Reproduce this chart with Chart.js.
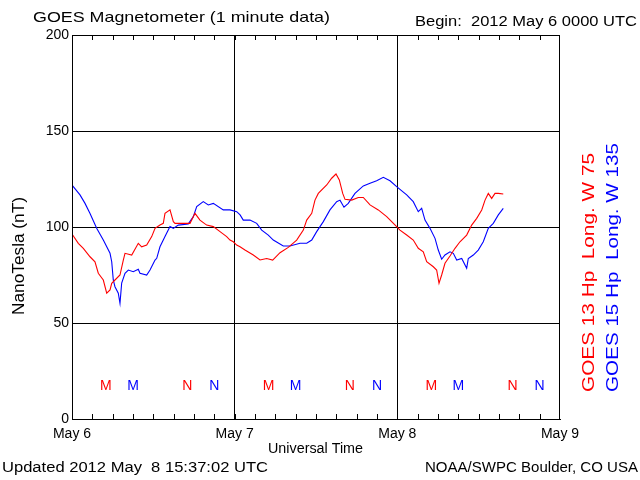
<!DOCTYPE html>
<html>
<head>
<meta charset="utf-8">
<script src="https://cdn.jsdelivr.net/npm/chart.js@4/dist/chart.umd.min.js"></script>
<style>
html,body{margin:0;padding:0;background:#fff;}
#c{display:block;}
</style>
</head>
<body>
<canvas id="c" width="640" height="480"></canvas>
<script>
// ---- Data (hours since 2012 May 6 00:00 UT) ----
const g13Hours = [0.1,0.93,1.67,2.66,3.39,3.88,4.62,5.12,5.61,5.86,6.34,7.08,7.57,7.82,8.81,9.78,10.28,11.02,11.76,12.25,12.98,13.47,13.72,14.46,14.95,15.2,16.42,17.41,18.15,18.88,19.87,20.85,21.84,22.82,23.31,23.8,24.3,24.79,25.52,26.75,27.74,28.72,29.61,30.69,31.91,33.15,34.13,34.63,35.37,35.85,36.34,37.58,38.31,38.95,39.44,39.94,40.28,41.27,42.24,42.98,43.97,45.19,46.43,47.9,48.39,49.38,50.35,51.09,51.83,52.33,53.31,53.8,54.15,54.54,55.03,55.77,56.51,57.24,58.23,58.97,59.71,60.45,60.94,61.42,61.92,62.41,62.9,63.63];
const g13Values = [95.8,91.5,88.9,84.5,81.9,75.9,72.4,65.5,67.2,70.7,72.4,75.0,82.8,86.3,85.4,91.5,89.7,90.6,95.0,99.3,101.0,101.9,107.1,108.9,102.8,101.9,101.9,101.9,107.1,103.6,101.0,100.2,97.6,95.0,93.2,92.3,90.6,89.7,88.0,85.4,82.8,83.6,82.8,86.6,89.4,93.2,98.4,103.6,107.1,114.0,117.5,121.9,125.4,127.6,124.5,117.5,114.4,114.0,115.4,115.4,111.5,108.9,105.4,100.2,98.4,95.8,93.2,88.9,87.1,81.9,79.3,77.6,70.7,75.0,81.1,84.9,88.9,92.3,95.8,101.0,104.5,108.9,114.0,117.5,114.9,117.5,117.5,117.2];
const g15Hours = [0.1,1.18,1.92,2.66,3.64,4.62,5.61,5.86,6.09,6.34,6.83,7.08,7.33,7.82,8.31,9.04,9.78,10.03,11.02,11.51,12.25,12.5,12.98,13.72,14.46,14.95,15.68,17.16,17.9,18.4,19.37,20.11,20.85,22.32,23.31,24.3,24.8,25.27,26.26,27.25,27.99,28.96,29.7,31.17,32.16,33.64,34.63,35.37,36.1,37.08,38.06,39.05,39.54,40.13,40.76,41.75,42.98,43.97,44.95,45.93,46.92,47.9,48.39,49.38,50.35,51.09,51.59,52.08,52.82,53.56,54.04,54.54,55.03,55.77,56.26,56.76,57.5,58.23,58.47,59.21,59.94,60.68,61.42,62.16,62.9,63.63];
const g15Values = [121.4,116.7,112.3,107.0,99.3,93.2,86.3,81.9,72.4,68.9,65.5,60.2,70.8,75.9,77.6,76.7,78.0,75.9,75.0,77.6,82.8,83.7,89.7,95.0,100.2,99.3,101.0,101.6,105.4,110.6,113.2,111.5,112.3,108.9,108.9,108.0,106.3,103.6,103.6,101.9,98.4,95.8,93.2,90.1,90.1,91.5,91.5,93.2,97.6,102.8,108.9,113.2,114.0,110.3,112.3,117.5,121.4,122.8,124.1,125.9,124.1,121.0,119.6,116.7,113.2,108.0,109.7,103.6,99.3,94.1,88.0,83.2,85.4,87.1,86.3,82.8,83.6,78.5,83.6,85.4,88.0,92.3,99.3,101.9,106.3,109.7];

const dayLabels = ['May 6','May 7','May 8','May 9'];
const yTickValues = [0,50,100,150,200];

// local midnight (M) / noon (N) markers
const markerHours   = [5,9,17,21, 29,33,41,45, 53,57,65,69];
const markerLetters = ['M','M','N','N','M','M','N','N','M','M','N','N'];
const markerSeries  = ['g13','g15','g13','g15','g13','g15','g13','g15','g13','g15','g13','g15'];
const markerLevel = 17;

const RED = '#ff0000', BLUE = '#0000ff';
const FONT = '"Liberation Sans", Arial, sans-serif';

function drawFit(ctx, text, x, y, width, size, color, rotate) {
  ctx.save();
  ctx.font = size + 'px ' + FONT;
  ctx.fillStyle = color;
  ctx.textBaseline = 'middle';
  ctx.textAlign = 'left';
  const w = ctx.measureText(text).width;
  ctx.translate(x, y);
  if (rotate) ctx.rotate(-Math.PI / 2);
  ctx.scale(width / w, 1);
  ctx.fillText(text, 0, 0);
  ctx.restore();
}

const decorPlugin = {
  id: 'decor',
  afterDatasetsDraw(chart) {
    const ctx = chart.ctx;
    const a = chart.chartArea;
    const xs = chart.scales.x, ys = chart.scales.y;
    ctx.save();
    // frame
    ctx.strokeStyle = '#000';
    ctx.lineWidth = 1;
    ctx.strokeRect(a.left + 0.5, a.top + 0.5, a.right - a.left - 1, a.bottom - a.top);
    // inward 3-hour ticks top and bottom
    ctx.beginPath();
    for (let h = 3; h < 72; h += 3) {
      const px = Math.round(xs.getPixelForValue(h)) + 0.5;
      ctx.moveTo(px, a.top); ctx.lineTo(px, a.top + 5);
      ctx.moveTo(px, a.bottom); ctx.lineTo(px, a.bottom - 5);
    }
    ctx.stroke();
    // M/N markers
    ctx.font = '14px ' + FONT;
    ctx.textAlign = 'center';
    ctx.textBaseline = 'middle';
    for (let i = 0; i < markerHours.length; i++) {
      ctx.fillStyle = markerSeries[i] === 'g13' ? RED : BLUE;
      ctx.fillText(markerLetters[i], xs.getPixelForValue(markerHours[i]), ys.getPixelForValue(markerLevel));
    }
    ctx.restore();
    // texts
    drawFit(ctx, 'GOES Magnetometer (1 minute data)', 33, 18, 297, 15, '#000');
    drawFit(ctx, 'Begin:  2012 May 6 0000 UTC', 415, 22, 222, 14, '#000');
    drawFit(ctx, 'NanoTesla (nT)', 20, 315, 118, 16, '#000', true);
    drawFit(ctx, 'Universal Time', 268, 449, 95, 14, '#000');
    drawFit(ctx, 'Updated 2012 May  8 15:37:02 UTC', 2, 468, 266, 14, '#000');
    drawFit(ctx, 'NOAA/SWPC Boulder, CO USA', 425, 468, 213, 14, '#000');
    drawFit(ctx, 'GOES 13 Hp  Long. W 75', 590, 392, 239, 16, RED, true);
    drawFit(ctx, 'GOES 15 Hp  Long. W 135', 614, 392, 249, 16, BLUE, true);
  }
};

const toPts = (hs, vs) => hs.map((h, i) => ({x: h, y: vs[i]}));

new Chart(document.getElementById('c'), {
  type: 'line',
  data: {
    datasets: [
      {label: 'GOES 13', data: toPts(g13Hours, g13Values), borderColor: RED, borderWidth: 1.1, pointRadius: 0, tension: 0, fill: false},
      {label: 'GOES 15', data: toPts(g15Hours, g15Values), borderColor: BLUE, borderWidth: 1.1, pointRadius: 0, tension: 0, fill: false}
    ]
  },
  options: {
    responsive: false,
    animation: false,
    devicePixelRatio: 1,
    layout: {padding: {left: 0, right: 80, top: 35, bottom: 0}},
    plugins: {legend: {display: false}, tooltip: {enabled: false}},
    scales: {
      x: {
        type: 'linear', min: 0, max: 72,
        afterFit(s) { s.height = 61; },
        afterBuildTicks(s) { s.ticks = [0,24,48,72].map(v => ({value: v})); },
        ticks: {
          autoSkip: false, maxRotation: 0, padding: 7, color: '#000',
          font: {family: FONT, size: 14},
          callback: (v) => dayLabels[Math.round(v / 24)]
        },
        grid: {
          drawTicks: false,
          color: (c) => (c.tick && (c.tick.value === 24 || c.tick.value === 48)) ? '#000' : 'rgba(0,0,0,0)',
          lineWidth: 1
        },
        border: {display: true, color: '#000', width: 1}
      },
      y: {
        type: 'linear', min: 0, max: 200,
        afterFit(s) { s.width = 72; },
        afterBuildTicks(s) { s.ticks = yTickValues.map(v => ({value: v})); },
        ticks: {
          padding: 3, color: '#000',
          font: {family: FONT, size: 14},
          callback: (v) => String(v)
        },
        grid: {
          drawTicks: false,
          color: (c) => (c.tick && c.tick.value > 0 && c.tick.value < 200) ? '#000' : 'rgba(0,0,0,0)',
          lineWidth: 1
        },
        border: {display: true, color: '#000', width: 1}
      }
    }
  },
  plugins: [decorPlugin]
});
</script>
</body>
</html>
